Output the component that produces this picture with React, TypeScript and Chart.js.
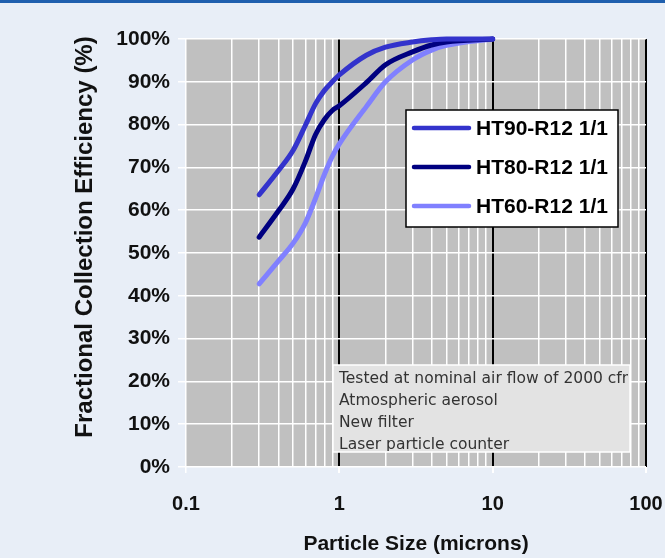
import React, { useEffect, useRef } from "react";
import { Chart, registerables } from "chart.js";

Chart.register(...registerables);

// ---- data ----
const particleSizes = [0.3, 0.4, 0.5, 0.6, 0.7, 0.8, 0.9, 1, 1.5, 2, 3, 4, 5, 10];
const ht90 = [63.6, 69.2, 74, 79.8, 84.9, 88, 90, 91.6, 96.2, 98.1, 99.3, 99.8, 100, 100];
const ht80 = [53.7, 59.8, 65, 71.4, 77.7, 81.2, 83.3, 84.4, 89.8, 94, 97, 98.6, 99.3, 100];
const ht60 = [42.8, 48.1, 52.3, 57, 62.8, 68.4, 72.6, 75.5, 84.2, 90, 95.1, 97.4, 98.5, 100];
const seriesNames = ["HT90-R12 1/1", "HT80-R12 1/1", "HT60-R12 1/1"];
const seriesColors = ["#3333cc", "#000080", "#8080ff"];
const xTickValues = [0.1, 1, 10, 100];
const xTickLabels = ["0.1", "1", "10", "100"];
const noteLines = [
  "Tested at nominal air flow of 2000 cfm",
  "Atmospheric aerosol",
  "New filter",
  "Laser particle counter",
];
const xTitle = "Particle Size (microns)";
const yTitle = "Fractional Collection Efficiency (%)";

const isMajor = (v: number) => {
  const l = Math.log10(v);
  return Math.abs(l - Math.round(l)) < 1e-6;
};

const bgPlugin = {
  id: "bgPlugin",
  beforeDraw(chart: any) {
    const { ctx, chartArea: a, width, height } = chart;
    ctx.save();
    ctx.fillStyle = "#e8eef7";
    ctx.fillRect(0, 0, width, height);
    ctx.fillStyle = "#1f5fae";
    ctx.fillRect(0, 0, width, 3);
    ctx.fillStyle = "#c0c0c0";
    ctx.fillRect(a.left, a.top, a.right - a.left, a.bottom - a.top);
    ctx.restore();
  },
};

const overlayPlugin = {
  id: "overlayPlugin",
  afterDraw(chart: any) {
    const { ctx, chartArea: a } = chart;
    ctx.save();
    // y title
    ctx.save();
    ctx.translate(85, 237);
    ctx.rotate(-Math.PI / 2);
    ctx.font = "bold 24px 'Liberation Sans', Arial, sans-serif";
    ctx.fillStyle = "#111";
    ctx.textAlign = "center";
    ctx.textBaseline = "middle";
    ctx.fillText(yTitle, 0, 0);
    ctx.restore();

    // note box
    const bx = a.left + 147, by = a.top + 326, bw = 297, bh = 87;
    ctx.fillStyle = "#e3e3e3";
    ctx.fillRect(bx, by, bw, bh);
    ctx.strokeStyle = "#ffffff";
    ctx.lineWidth = 1.5;
    ctx.strokeRect(bx, by, bw, bh);
    ctx.save();
    ctx.beginPath();
    ctx.rect(bx, by, bw - 2, bh - 1);
    ctx.clip();
    ctx.font = "15.5px 'DejaVu Sans', sans-serif";
    ctx.fillStyle = "#333";
    ctx.textAlign = "left";
    ctx.textBaseline = "alphabetic";
    noteLines.forEach((t, i) => ctx.fillText(t, bx + 6, by + 18 + i * 22));
    ctx.restore();

    // legend
    const lx = a.left + 220, ly = a.top + 71, lw = 212, lh = 117;
    ctx.fillStyle = "#ffffff";
    ctx.fillRect(lx, ly, lw, lh);
    ctx.strokeStyle = "#000";
    ctx.lineWidth = 1.5;
    ctx.strokeRect(lx, ly, lw, lh);
    ctx.font = "bold 21px 'Liberation Sans', Arial, sans-serif";
    ctx.textBaseline = "middle";
    chart.data.datasets.forEach((ds: any, i: number) => {
      const cy = ly + 18 + i * 39;
      ctx.strokeStyle = ds.borderColor;
      ctx.lineWidth = 4.5;
      ctx.lineCap = "round";
      ctx.beginPath();
      ctx.moveTo(lx + 8, cy);
      ctx.lineTo(lx + 63, cy);
      ctx.stroke();
      ctx.fillStyle = "#000";
      ctx.fillText(ds.label, lx + 70, cy + 1);
    });
    ctx.restore();
  },
};

export default function App() {
  const ref = useRef<HTMLCanvasElement | null>(null);
  useEffect(() => {
    if (!ref.current) return;
    const datasets = [ht90, ht80, ht60].map((vals, i) => ({
      label: seriesNames[i],
      data: particleSizes.map((x, j) => ({ x, y: vals[j] })),
      borderColor: seriesColors[i],
      backgroundColor: seriesColors[i],
      borderWidth: 5,
      borderCapStyle: "round" as const,
      borderJoinStyle: "round" as const,
      pointRadius: 0,
      cubicInterpolationMode: "monotone" as const,
      fill: false,
      clip: 8,
    }));
    const chart = new Chart(ref.current, {
      type: "line",
      data: { datasets },
      plugins: [bgPlugin, overlayPlugin],
      options: {
        animation: false,
        responsive: false,
        layout: { padding: { top: 39, right: 19, left: 0, bottom: 0 } },
        plugins: { legend: { display: false }, tooltip: { enabled: false } },
        scales: {
          x: {
            type: "logarithmic",
            min: 0.1,
            max: 100,
            afterFit: (s: any) => {
              s.height = 91;
              s.paddingLeft = 0;
              s.paddingRight = 0;
            },
            afterBuildTicks: (s: any) => {
              const t: { value: number }[] = [];
              for (let d = 0; d < 3; d++) {
                for (let k = 1; k <= 9; k++) t.push({ value: k * xTickValues[d] });
              }
              t.push({ value: xTickValues[3] });
              s.ticks = t;
            },
            border: { display: false },
            grid: {
              color: (c: any) => (isMajor(c.tick.value) && c.tick.value > 0.5 ? "#000000" : "#ffffff"),
              lineWidth: (c: any) => (isMajor(c.tick.value) && c.tick.value > 0.5 ? 2 : 1.5),
              tickColor: (c: any) => (isMajor(c.tick.value) ? "#ffffff" : "rgba(0,0,0,0)"),
              tickLength: 6,
            },
            ticks: {
              autoSkip: false,
              maxRotation: 0,
              padding: 19,
              color: "#111",
              font: { family: "'Liberation Sans', Arial, sans-serif", size: 20, weight: "bold" },
              callback: (v: any) => {
                const idx = xTickValues.findIndex((t) => Math.abs(t - Number(v)) < 1e-9);
                return idx >= 0 ? xTickLabels[idx] : "";
              },
            },
            title: {
              display: true,
              text: xTitle,
              color: "#111",
              padding: { top: 0, bottom: 1 },
              font: { family: "'Liberation Sans', Arial, sans-serif", size: 21, weight: "bold" },
            },
          },
          y: {
            type: "linear",
            min: 0,
            max: 100,
            afterFit: (s: any) => {
              s.width = 186;
              s.paddingTop = 0;
              s.paddingBottom = 0;
            },
            border: { display: false },
            grid: {
              color: "#ffffff",
              lineWidth: 1.5,
              tickColor: "#ffffff",
              tickLength: 8,
            },
            ticks: {
              stepSize: 10,
              padding: 8,
              color: "#111",
              font: { family: "'Liberation Sans', Arial, sans-serif", size: 21, weight: "bold" },
              callback: (v: any) => `${v}%`,
            },
          },
        },
      },
    });
    return () => chart.destroy();
  }, []);
  return (
    <div style={{ position: "absolute", left: 0, top: 0, width: 665, height: 558 }}>
      <canvas ref={ref} width={665} height={558} style={{ width: 665, height: 558, display: "block" }} />
    </div>
  );
}
